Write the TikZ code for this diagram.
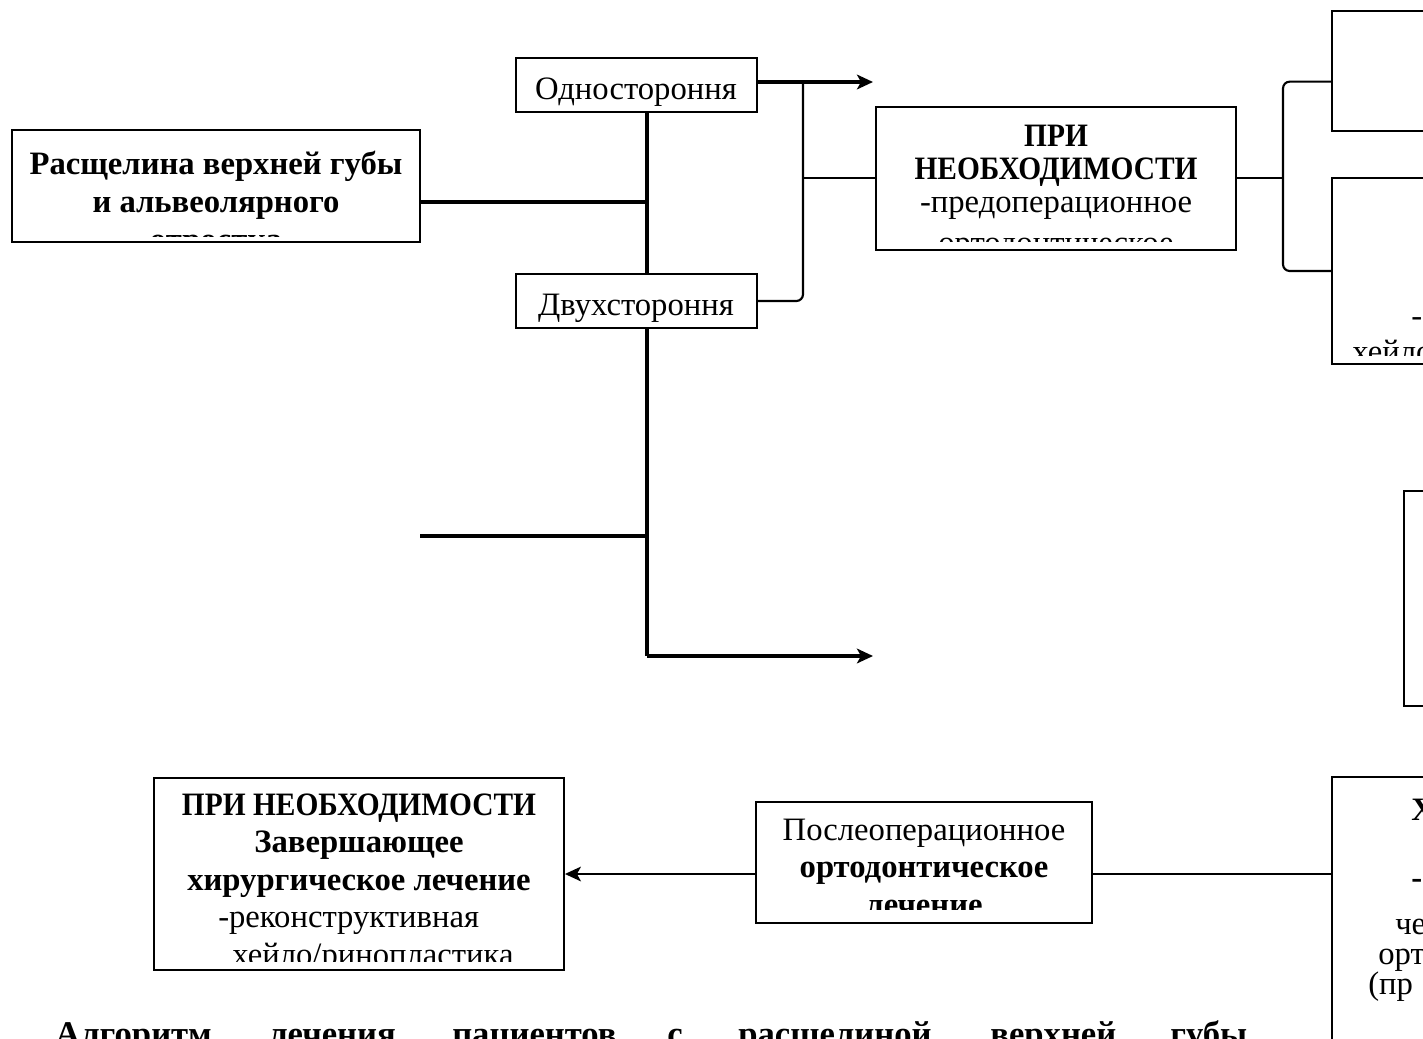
\documentclass[tikz,border=0pt]{standalone}
\usepackage{fontspec}
\setmainfont{Liberation Serif}
\newfontfamily\narrowcaps{Liberation Serif}[FakeStretch=0.9]
\usetikzlibrary{arrows.meta,fit}

\begin{document}
\begin{tikzpicture}[x=0.75pt,y=0.75pt]
\tikzset{
  box/.style={draw, line width=1.4pt, inner sep=0pt},
  heavy/.style={line width=2.3pt},
  mid/.style={line width=1.6pt},
  light/.style={line width=1.2pt},
  lbl/.style={inner sep=0pt, align=center, font=\fontsize{24.5}{28}\selectfont},
  word/.style={inner sep=0pt, anchor=base west, font=\fontsize{26}{28}\selectfont\bfseries},
  tip/.style={-{Stealth[length=12pt,width=11pt,inset=3pt]}}
}
\clip (0,0) rectangle (1423,-1038);

\node[box, fit={(12,-130) (420,-242)}] (cleft) {};
\node[box, fit={(516,-58) (757,-112)}] (one) {};
\node[box, fit={(516,-274) (757,-328)}] (two) {};
\node[box, fit={(876,-107) (1236,-250)}] (pre) {};
\node[box, fit={(1332,-11) (1500,-131)}] (ra) {};
\node[box, fit={(1332,-178) (1500,-364)}] (rb) {};
\node[box, fit={(1404,-491) (1500,-706)}] (rc) {};
\node[box, fit={(1332,-777) (1500,-1100)}] (rd) {};
\node[box, fit={(756,-802) (1092,-923)}] (post) {};
\node[box, fit={(154,-778) (564,-970)}] (fin) {};

\begin{scope}
\clip (12,-130) rectangle (420,-236);
\node[lbl, font=\fontsize{24.5}{28.5}\selectfont\bfseries, anchor=base] (cleftt) at (216,-250) {Расщелина верхней губы\\и альвеолярного\\отростка};
\end{scope}
\node[lbl, anchor=base] (onet) at (636,-100) {Одностороння};
\node[lbl, anchor=base] (twot) at (636,-315) {Двухстороння};
\begin{scope}
\clip (876,-107) rectangle (1236,-241);
\node[lbl, font=\fontsize{24.5}{24.75}\selectfont, anchor=base] (pret) at (1056,-253) {\narrowcaps\bfseries ПРИ\\\narrowcaps\bfseries НЕОБХОДИМОСТИ\\-предоперационное\\[6pt]ортодонтическое};
\end{scope}
\begin{scope}
\clip (1332,-178) rectangle (1423,-355);
\node[lbl, anchor=base west] (rbt) at (1411,-326) {-};
\node[lbl, anchor=base west] (rbs) at (1352,-362) {хейло};
\end{scope}
\node[lbl, anchor=base west] (rdt) at (1411,-820) {\bfseries Х};
\node[lbl, anchor=base west] (rds) at (1411,-888) {\bfseries -};
\node[lbl, anchor=base west] (rdu) at (1395,-934) {че};
\node[lbl, anchor=base west] (rdv) at (1378,-964) {орт};
\node[lbl, anchor=base west] (rdw) at (1368,-994) {(пр};
\begin{scope}
\clip (756,-802) rectangle (1092,-909);
\node[lbl, anchor=base] (postt) at (924,-915) {Послеоперационное\\\bfseries ортодонтическое\\\bfseries лечение};
\end{scope}
\begin{scope}
\clip (154,-778) rectangle (564,-961);
\node[lbl, anchor=base] (fint) at (359,-890) {\narrowcaps\bfseries ПРИ НЕОБХОДИМОСТИ\\\bfseries Завершающее\\\bfseries хирургическое лечение};
\node[lbl, anchor=base west, align=left] (fins) at (218,-965) {-реконструктивная\\\hspace*{10.5pt}хейло/ринопластика};
\end{scope}

\node[word] (w1) at (55,-1045) {Алгоритм};
\node[word] (w2) at (268,-1045) {лечения};
\node[word] (w3) at (452,-1045) {пациентов};
\node[word] (w4) at (667,-1045) {с};
\node[word] (w5) at (738,-1045) {расщелиной};
\node[word] (w6) at (990,-1045) {верхней};
\node[word] (w7) at (1170,-1045) {губы};

\coordinate (j1) at (647,-202);
\coordinate (j2) at (647,-536);
\coordinate (j3) at (647,-656);
\coordinate (loose) at (420,-536);
\coordinate (taila) at (873,-82);
\coordinate (tailb) at (873,-656);
\coordinate (b1) at (803,-178);
\coordinate (b2) at (1283,-178);

\draw[heavy] (cleft.east |- j1) -- (j1);
\draw[heavy] (one.south -| j1) -- (two.north -| j1);
\draw[heavy] (two.south -| j1) -- (j3);
\draw[heavy, tip] (j3) -- (tailb);
\draw[heavy] (loose) -- (j2);
\draw[heavy, tip] (one.east |- taila) -- (taila);
\draw[mid, rounded corners=5pt] (two.east) -| (b1) -- (b1 |- taila);
\draw[light] (b1) -- (pre.west |- b1);
\draw[mid] (pre.east |- b2) -- (b2);
\draw[mid, rounded corners=5pt] ([yshift=-8pt]ra.west) -| (b2) |- (rb.west);
\draw[mid] (post.east |- fin.east) -- (rd.west |- fin.east);
\draw[mid, tip] (post.west |- fin.east) -- (fin.east);
\end{tikzpicture}
\end{document}
